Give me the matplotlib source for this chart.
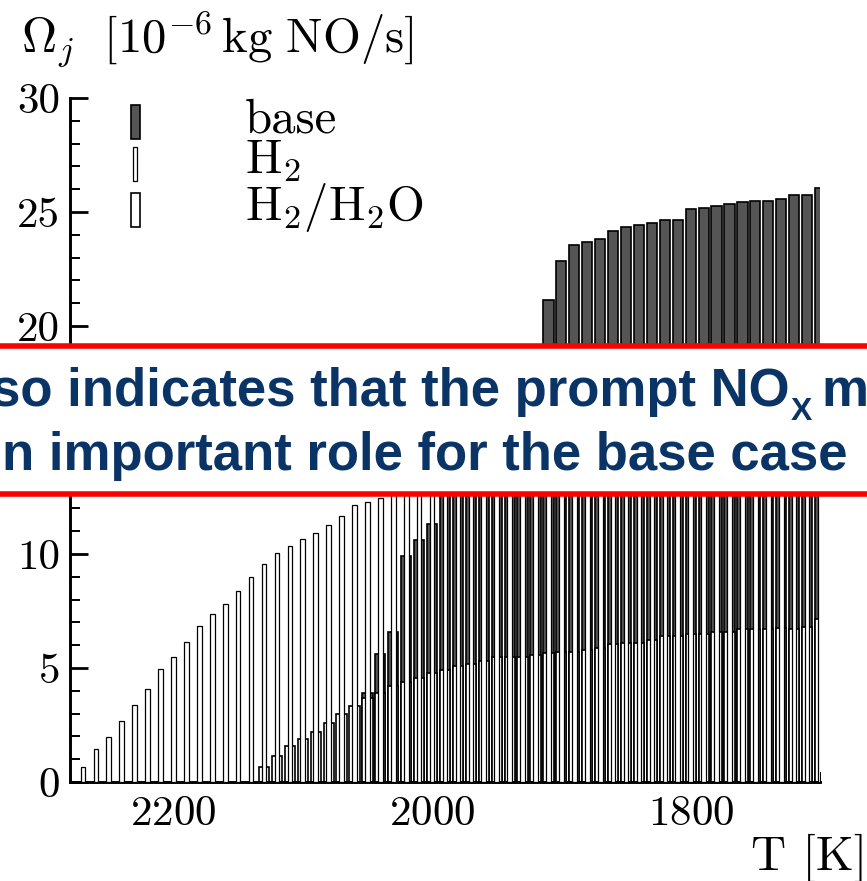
import matplotlib
matplotlib.use('Agg')
import matplotlib.pyplot as plt
from matplotlib.patches import Rectangle
from matplotlib.lines import Line2D
from matplotlib.text import Annotation
from matplotlib.legend_handler import HandlerPatch
from matplotlib.ticker import MultipleLocator, FuncFormatter

plt.rcParams['font.family'] = 'serif'
plt.rcParams['font.serif'] = ['cmr10', 'DejaVu Serif']
plt.rcParams['mathtext.fontset'] = 'cm'
plt.rcParams['axes.formatter.use_mathtext'] = True

# cell temperatures [K], hottest first
temps = [2270, 2260, 2250, 2240, 2230, 2220, 2210, 2200, 2190, 2180,
         2170, 2160, 2150, 2140, 2130, 2120, 2110, 2100, 2090, 2080,
         2070, 2060, 2050, 2040, 2030, 2020, 2010, 2000, 1990, 1980,
         1970, 1960, 1950, 1940, 1930, 1920, 1910, 1900, 1890, 1880,
         1870, 1860, 1850, 1840, 1830, 1820, 1810, 1800, 1790, 1780,
         1770, 1760, 1750, 1740, 1730, 1720, 1710, 1700]

# NO production per cell [1e-6 kg NO/s]
# H2: all cells (values above ~12.5 are hidden in the original, estimated)
h2 = [0.64, 1.43, 1.98, 2.68, 3.38, 4.08, 4.95, 5.49, 6.12, 6.83,
      7.36, 7.82, 8.39, 9.00, 9.56, 10.03, 10.35, 10.64, 10.91, 11.29,
      11.67, 12.15, 12.29, 12.44, 12.7, 12.85, 13.0, 13.1, 13.25, 13.4,
      13.5, 13.6, 13.7, 13.8, 13.9, 14.0, 14.1, 14.2, 14.3, 14.35,
      14.45, 14.5, 14.6, 14.65, 14.75, 14.8, 14.9, 14.95, 15.0, 15.1,
      15.15, 15.2, 15.3, 15.35, 15.4, 15.45, 15.5, 15.55]

# H2/H2O: cells from 2130 K down
h2_h2o = [0.64, 1.12, 1.58, 1.88, 2.20, 2.58, 2.98, 3.32, 3.67, 3.92,
          4.22, 4.38, 4.55, 4.77, 4.93, 5.09, 5.17, 5.32, 5.47, 5.48,
          5.50, 5.56, 5.64, 5.72, 5.72, 5.79, 5.86, 6.04, 6.11, 6.11,
          6.23, 6.42, 6.42, 6.49, 6.49, 6.57, 6.59, 6.71, 6.71, 6.71,
          6.74, 6.71, 6.81, 7.13]

# base: cells from 2050 K down (1990-1920 hidden, estimated)
base = [3.9, 5.6, 6.6, 9.9, 10.6, 11.3, 13.0, 13.8, 14.6, 15.4,
        16.2, 17.0, 17.8, 18.5, 21.14, 22.86, 23.55, 23.70, 23.80, 24.18,
        24.33, 24.43, 24.50, 24.65, 24.65, 25.12, 25.19, 25.28, 25.35, 25.44,
        25.50, 25.50, 25.58, 25.75, 25.75, 26.07]

labels = ['base', r'H$_2$', r'H$_2$/H$_2$O']

fig = plt.figure(figsize=(8.67, 8.81), dpi=100)
ax = fig.add_axes([70 / 867, 1 - 782 / 881, 750 / 867, 684 / 881])

b_base = ax.bar(temps[-len(base):], base, width=7.9, color='#555555',
                edgecolor='black', linewidth=1.2, zorder=1)
b_wet = ax.bar(temps[-len(h2_h2o):], h2_h2o, width=7.9, color='white',
               edgecolor='black', linewidth=1.2, zorder=2)
b_h2 = ax.bar(temps, h2, width=3.6, color='white',
              edgecolor='black', linewidth=0.9, zorder=3)

ax.set_xlim(2280, 1700)
ax.set_ylim(0, 30)

ax.xaxis.set_major_locator(MultipleLocator(200))
ax.xaxis.set_minor_locator(MultipleLocator(50))
ax.yaxis.set_major_locator(MultipleLocator(5))
ax.yaxis.set_minor_locator(MultipleLocator(1))
# the 15 label sits under the banner anyway
ax.yaxis.set_major_formatter(FuncFormatter(lambda v, p: '' if v == 15 else f'{v:.0f}'))
ax.tick_params(which='both', direction='in', top=False, right=False)
ax.tick_params(which='major', length=13, width=2)
ax.tick_params(which='minor', length=7.5, width=1.4)
ax.tick_params(axis='x', which='major', labelsize=31, pad=10)
ax.tick_params(axis='y', which='major', labelsize=31, pad=7)

for s in ['top', 'right']:
    ax.spines[s].set_visible(False)
for s in ['left', 'bottom']:
    ax.spines[s].set_linewidth(2.1)

ax.set_ylabel(r'$\Omega_j\ \ [10^{-6}\,\mathrm{kg\ NO/s}]$', rotation=0,
              fontsize=35, ha='left', va='baseline')
ax.yaxis.set_label_coords(-0.0657, 1.0658)
ax.set_xlabel('T [K]', fontsize=35, ha='left', va='baseline')
ax.xaxis.set_label_coords(0.9080, -0.1287)


# tall, thin legend keys like the bars themselves
def key(w):
    def make(legend, orig_handle, xdescent, ydescent, width, height, fontsize):
        return Rectangle((width / 2 - xdescent - w / 2, 7.2 - ydescent - 12.2),
                         w, 24.5)
    return HandlerPatch(patch_func=make,
                        update_func=lambda h, o: h.update_from(o.patches[0]))


ax.legend([b_base, b_h2, b_wet], labels,
          handler_map={b_base: key(6.5), b_h2: key(3.3), b_wet: key(6.5)},
          loc='upper left', bbox_to_anchor=(0.0543, 1.0), frameon=False,
          fontsize=35, handlelength=1.0, handletextpad=1.76,
          borderpad=0, borderaxespad=0, labelspacing=-0.07)

# slide overlay banner
y_top = 1 - 345.5 / 881
y_bot = 1 - 494.2 / 881
fig.add_artist(Rectangle((0, y_bot), 1, y_top - y_bot, transform=fig.transFigure,
                         facecolor='white', edgecolor='none', zorder=10))
for y in (y_top, y_bot):
    fig.add_artist(Line2D([0, 1], [y, y], transform=fig.transFigure,
                          color='red', linewidth=4, zorder=11))

navy = '#0b3466'
kw = dict(fontsize=38, fontweight='bold', family='Liberation Sans',
          color=navy, ha='left', zorder=12)
t1 = fig.text(-9 / 867, 1 - 406.5 / 881, 'so indicates that the prompt NO',
              va='baseline', **kw)
sub = Annotation('X', xy=(1, 0), xycoords=t1, xytext=(1, -2),
                 textcoords='offset points', fontsize=23, fontweight='bold',
                 family='Liberation Sans', color=navy, ha='left',
                 va='baseline', zorder=12)
fig.add_artist(sub)
tail = Annotation('m', xy=(1, 0), xycoords=(sub, t1), xytext=(6.5, 0),
                  textcoords='offset points', va='bottom', **kw)
fig.add_artist(tail)
fig.text(2 / 867, 1 - 470 / 881, 'n important role for the base case',
         va='baseline', **kw)

fig.savefig('out.png', dpi=100)
